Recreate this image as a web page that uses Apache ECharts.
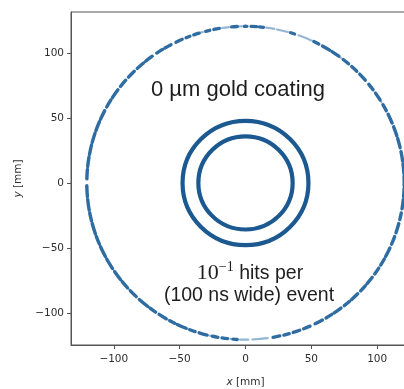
<!DOCTYPE html>
<html>
<head>
<meta charset="utf-8">
<script src="https://cdn.jsdelivr.net/npm/echarts@6/dist/echarts.min.js"></script>
<style>
  html, body { margin: 0; padding: 0; background: #ffffff; }
  #chart { width: 404px; height: 389px; }
</style>
</head>
<body>
<div id="chart"></div>
<script>
// Tick positions on both axes (mm)
const xTicks = [-100, -50, 0, 50, 100];
const yTicks = [-100, -50, 0, 50, 100];

// Radii (mm) of the two densely hit inner layers
const innerLayerRadii = [35.8, 47.8];

// Radius (mm) of the sparsely hit outer layer
const outerLayerRadius = [120.5];

// Angular extent [from, to] in degrees (counter-clockwise from +x) of hit clusters on the outer layer
const outerHitArcs = [
  [-179, -175], [-174, -170], [-169, -166], [-165, -161], [-160, -157], [-156, -152],
  [-151, -147], [-145.5, -142], [-141, -138], [-136.5, -133.5], [-132, -128], [-127, -124.5],
  [-123, -120], [-118.5, -116.5], [-115.5, -112], [-110.5, -108.5], [-107, -104], [-102, -100],
  [-98.5, -96.5], [-94.5, -93], [-80, -77.5], [-76, -74], [-72.5, -70], [-68.5, -66],
  [-64, -61], [-59.5, -57], [-56, -53], [-51.5, -49], [-48, -45], [-43.5, -41],
  [-40, -37], [-35.5, -33], [-31.5, -29], [-28, -24.5], [-23, -20], [-18.5, -15],
  [-13.5, -11], [-9.5, -6], [-5, -2], [-1, 2.5], [3.5, 7], [8, 11.5],
  [13, 16.5], [17.5, 21], [22.5, 26], [27.5, 30], [32, 35], [36.5, 39],
  [41, 44], [45.5, 48], [49.5, 52], [54, 57], [58, 61], [62.5, 64.5],
  [72, 73.5], [83.5, 85], [86, 88], [89.5, 90.5], [93, 95], [99.5, 101.5],
  [103, 104.5], [107, 109], [110.5, 112], [113.5, 116], [118, 120.5], [121.5, 124],
  [126, 129], [130, 133], [134.5, 137.5], [139, 142], [143.5, 147], [148, 151],
  [152.5, 156], [157, 160.5], [161.5, 165], [166, 169.5], [170.5, 174], [175, 178.5]
];

// Sparser, fainter hits on the outer layer
const outerFaintArcs = [
  [-92, -89], [-87.5, -82], [-95.5, -95], [-103, -102.5], [-111.5, -111], [-119.5, -119],
  [65.5, 70.5], [74.5, 78.5], [79.5, 82.5], [91.5, 92.5], [96, 98.5], [105.5, 106.5],
  [-146.5, -146], [-137.5, -137], [-32.5, -32], [-1.8, -1.2], [31, 31.5], [53, 53.5]
];

const ringColor = '#1b5990';
const axisGrey = '#555555';
const labelGrey = '#2e2e2e';
const minusSign = v => String(v).replace('-', '\u2212');

function ringItem(params, api) {
  const c = api.coord([api.value(0), api.value(1)]);
  const s = api.size([api.value(2), api.value(2)]);
  return {
    type: 'circle',
    x: c[0], y: c[1],
    scaleY: s[1] / s[0],
    shape: { cx: 0, cy: 0, r: s[0] },
    style: { fill: null, stroke: ringColor, lineWidth: 4.2, strokeNoScale: true }
  };
}

function arcRenderer(color, width, opacity) {
  return function (params, api) {
    const c = api.coord([api.value(0), api.value(1)]);
    const s = api.size([api.value(2), api.value(2)]);
    const a0 = api.value(3) * Math.PI / 180;
    const a1 = api.value(4) * Math.PI / 180;
    return {
      type: 'arc',
      x: c[0], y: c[1],
      scaleY: s[1] / s[0],
      shape: { cx: 0, cy: 0, r: s[0], startAngle: -a1, endAngle: -a0, clockwise: true },
      style: { fill: null, stroke: color, lineWidth: width, lineCap: 'round', opacity: opacity, strokeNoScale: true }
    };
  };
}

const chart = echarts.init(document.getElementById('chart'), null, { renderer: 'canvas' });

const axisName = {
  fontFamily: 'DejaVu Sans', fontSize: 10.5, color: labelGrey,
  rich: { i: { fontFamily: 'DejaVu Sans', fontStyle: 'italic', fontSize: 10.5, color: labelGrey } }
};

chart.setOption({
  animation: false,
  backgroundColor: '#ffffff',
  grid: {
    left: 71, top: 12, width: 349, height: 333,
    outerBoundsMode: 'none',
    show: true, borderColor: axisGrey, borderWidth: 1, backgroundColor: 'transparent'
  },
  xAxis: {
    type: 'value', min: -132.5, max: 132.5,
    name: '{i|x} [mm]', nameLocation: 'middle', nameGap: 32,
    nameTextStyle: axisName,
    axisLine: { show: true, onZero: false, lineStyle: { color: axisGrey, width: 1 } },
    axisTick: { show: true, inside: false, length: 4, customValues: xTicks, lineStyle: { color: axisGrey } },
    axisLabel: { customValues: xTicks, formatter: minusSign, fontFamily: 'DejaVu Sans', fontSize: 10.5, color: labelGrey, margin: 9 },
    splitLine: { show: false }
  },
  yAxis: {
    type: 'value', min: -124.6, max: 131.5,
    name: '{i|y} [mm]', nameLocation: 'middle', nameGap: 42, nameRotate: 90,
    nameTextStyle: axisName,
    axisLine: { show: true, onZero: false, lineStyle: { color: axisGrey, width: 1 } },
    axisTick: { show: true, inside: false, length: 4, customValues: yTicks, lineStyle: { color: axisGrey } },
    axisLabel: { customValues: yTicks, formatter: minusSign, fontFamily: 'DejaVu Sans', fontSize: 10.5, color: labelGrey, margin: 7 },
    splitLine: { show: false }
  },
  graphic: [
    {
      type: 'text', x: 238, y: 90,
      style: {
        text: '0 µm gold coating', fill: '#1e1e1e',
        font: '22px "Liberation Sans", Arial, sans-serif',
        align: 'center', verticalAlign: 'middle'
      }
    },
    {
      type: 'text', x: 250, y: 272,
      style: {
        text: '{n|10}{s|\u22121}{t| hits per}', fill: '#1e1e1e',
        align: 'center', verticalAlign: 'middle',
        rich: {
          n: { font: '22px "Liberation Serif", "DejaVu Serif", serif', fill: '#1e1e1e', verticalAlign: 'bottom', lineHeight: 24 },
          s: { font: '14px "Liberation Serif", "DejaVu Serif", serif', fill: '#1e1e1e', verticalAlign: 'top', lineHeight: 24 },
          t: { font: '19.5px "Liberation Sans", Arial, sans-serif', fill: '#1e1e1e', verticalAlign: 'bottom', lineHeight: 24 }
        }
      }
    },
    {
      type: 'text', x: 249, y: 296,
      style: {
        text: '(100 ns wide) event', fill: '#1e1e1e',
        font: '19.5px "Liberation Sans", Arial, sans-serif',
        align: 'center', verticalAlign: 'middle'
      }
    }
  ],
  series: [
    {
      type: 'custom', name: 'inner layers', coordinateSystem: 'cartesian2d',
      encode: { x: 0, y: 1 },
      data: innerLayerRadii.map(r => [0, 0, r]),
      renderItem: ringItem, silent: true, clip: false
    },
    {
      type: 'custom', name: 'outer faint hits', coordinateSystem: 'cartesian2d',
      encode: { x: 0, y: 1 },
      data: outerFaintArcs.map(a => [0, 0, outerLayerRadius[0], a[0], a[1]]),
      renderItem: arcRenderer('#4d86b8', 2.2, 0.6), silent: true, clip: false
    },
    {
      type: 'custom', name: 'outer hits', coordinateSystem: 'cartesian2d',
      encode: { x: 0, y: 1 },
      data: outerHitArcs.map(a => [0, 0, outerLayerRadius[0], a[0], a[1]]),
      renderItem: arcRenderer('#24649c', 3.4, 0.95), silent: true, clip: false
    }
  ]
});
</script>
</body>
</html>
